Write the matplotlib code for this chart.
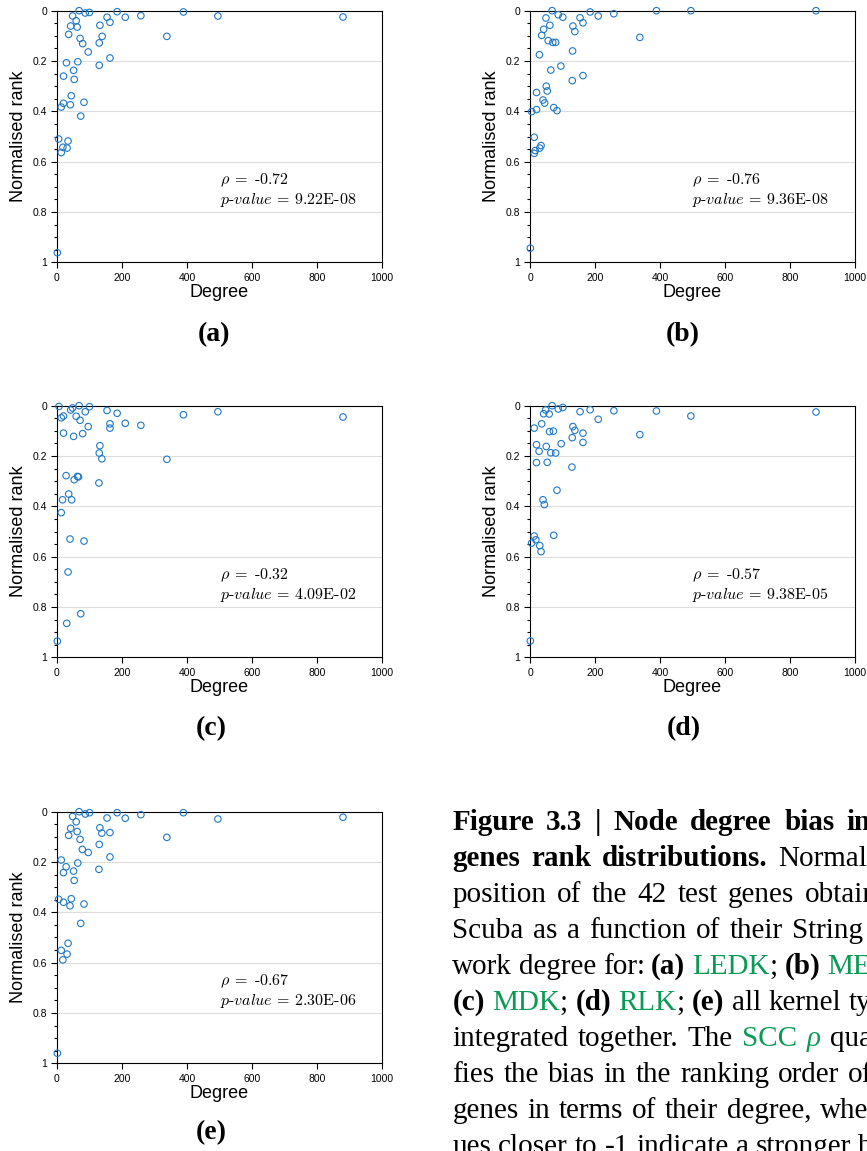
import matplotlib
matplotlib.use('Agg')
import matplotlib.pyplot as plt
from matplotlib.ticker import MultipleLocator

# degree / normalised rank of the 42 test genes for each kernel
ledk_degree = [68, 87, 100, 185, 48, 59, 154, 210, 258, 389, 163, 132, 42, 62, 36, 139, 338, 71, 79, 130,
               96, 163, 130, 29, 64, 51, 20, 53, 44, 20, 83, 13, 41, 73, 5, 34, 18, 31, 13, 1, 495, 880]
ledk_rank = [0.0, 0.009, 0.007, 0.004, 0.021, 0.04, 0.026, 0.026, 0.02, 0.005, 0.046, 0.058, 0.061, 0.065,
             0.094, 0.102, 0.102, 0.11, 0.131, 0.128, 0.164, 0.188, 0.217, 0.207, 0.203, 0.237, 0.26, 0.273,
             0.338, 0.368, 0.364, 0.383, 0.374, 0.419, 0.51, 0.518, 0.543, 0.546, 0.564, 0.962, 0.021, 0.025]

medk_degree = [68, 87, 101, 185, 210, 258, 389, 49, 154, 163, 61, 132, 42, 138, 36, 338, 56, 70, 79, 131,
               29, 95, 64, 163, 130, 50, 53, 20, 40, 45, 73, 83, 20, 5, 13, 34, 30, 16, 13, 1, 495, 880]
medk_rank = [0.0, 0.016, 0.026, 0.005, 0.021, 0.012, 0.0, 0.029, 0.028, 0.048, 0.058, 0.061, 0.074, 0.083,
             0.098, 0.106, 0.119, 0.126, 0.126, 0.16, 0.175, 0.22, 0.236, 0.258, 0.278, 0.3, 0.319, 0.325,
             0.355, 0.367, 0.385, 0.397, 0.393, 0.401, 0.503, 0.536, 0.546, 0.556, 0.567, 0.944, 0.0, 0.0]

mdk_degree = [6, 68, 100, 48, 42, 87, 154, 185, 389, 13, 20, 59, 71, 163, 163, 210, 258, 96, 20, 51,
              79, 132, 130, 138, 338, 28, 63, 66, 53, 129, 36, 17, 45, 13, 40, 83, 34, 73, 30, 1, 495, 880]
mdk_rank = [0.003, 0.0, 0.004, 0.009, 0.017, 0.024, 0.019, 0.03, 0.036, 0.048, 0.041, 0.042, 0.058, 0.072,
            0.089, 0.07, 0.078, 0.083, 0.109, 0.122, 0.111, 0.159, 0.188, 0.211, 0.213, 0.278, 0.281, 0.283,
            0.294, 0.307, 0.351, 0.374, 0.374, 0.425, 0.53, 0.538, 0.661, 0.827, 0.865, 0.936, 0.024, 0.045]

rlk_degree = [68, 87, 101, 185, 258, 389, 48, 42, 59, 154, 210, 36, 13, 132, 138, 60, 72, 163, 338, 130,
              163, 20, 50, 96, 28, 64, 79, 20, 53, 129, 83, 40, 44, 13, 18, 73, 5, 30, 34, 1, 495, 880]
rlk_rank = [0.0, 0.013, 0.007, 0.016, 0.02, 0.021, 0.017, 0.032, 0.033, 0.024, 0.054, 0.072, 0.089, 0.083,
            0.098, 0.103, 0.101, 0.109, 0.115, 0.127, 0.146, 0.155, 0.162, 0.151, 0.181, 0.187, 0.188, 0.226,
            0.225, 0.244, 0.336, 0.374, 0.393, 0.518, 0.533, 0.515, 0.546, 0.556, 0.58, 0.935, 0.041, 0.025]

all_degree = [68, 87, 100, 185, 258, 389, 210, 48, 59, 154, 132, 42, 62, 163, 138, 36, 338, 71, 130, 78,
              96, 163, 13, 64, 28, 129, 51, 20, 53, 5, 44, 20, 40, 83, 73, 34, 13, 31, 18, 1, 495, 880]
all_rank = [0.0, 0.009, 0.004, 0.004, 0.012, 0.004, 0.026, 0.019, 0.04, 0.025, 0.064, 0.066, 0.079, 0.083,
            0.085, 0.094, 0.102, 0.11, 0.13, 0.15, 0.162, 0.18, 0.192, 0.204, 0.219, 0.229, 0.236, 0.242,
            0.273, 0.348, 0.346, 0.36, 0.374, 0.367, 0.444, 0.523, 0.551, 0.566, 0.589, 0.96, 0.029, 0.022]

panel_labels = ['(a)', '(b)', '(c)', '(d)', '(e)']
rho_values = ['-0.72', '-0.76', '-0.32', '-0.57', '-0.67']
p_values = ['9.22E-08', '9.36E-08', '4.09E-02', '9.38E-05', '2.30E-06']

W, H = 867, 1151
BLUE = '#1f78c8'
GREEN = '#0a9a55'

plt.rcParams['font.family'] = 'Liberation Sans'
plt.rcParams['mathtext.fontset'] = 'cm'

fig = plt.figure(figsize=(W / 100, H / 100), dpi=100)

# axes boxes in pixels: left, top
boxes = [(57, 10.7), (530, 10.7), (57, 405.7), (530, 405.7), (57, 811.7)]
ax_w, ax_h = 325, 251.6
label_pos = [(214, 335), (683, 335), (211, 729), (684, 729), (211, 1133)]

series = [(ledk_degree, ledk_rank), (medk_degree, medk_rank), (mdk_degree, mdk_rank),
          (rlk_degree, rlk_rank), (all_degree, all_rank)]

for i, (deg, rank) in enumerate(series):
    left, top = boxes[i]
    ax = fig.add_axes([left / W, 1 - (top + ax_h) / H, ax_w / W, ax_h / H])
    ax.scatter(deg, rank, s=22, facecolors='none', edgecolors=BLUE, linewidths=0.8,
               clip_on=False, zorder=3)
    ax.set_xlim(0, 1000)
    ax.set_ylim(1, 0)
    ax.set_xticks(range(0, 1001, 200))
    ax.set_yticks([0, 0.2, 0.4, 0.6, 0.8, 1])
    ax.set_yticklabels(['0', '0.2', '0.4', '0.6', '0.8', '1'])
    ax.yaxis.set_minor_locator(MultipleLocator(0.05))
    ax.tick_params(axis='x', which='major', direction='out', length=4, width=0.8,
                   labelsize=7.5, pad=3.5)
    ax.tick_params(axis='y', which='major', direction='out', length=4.5, width=0.8,
                   labelsize=7.5, pad=2.5)
    ax.tick_params(axis='y', which='minor', direction='out', length=2.5, width=0.8)
    ax.grid(axis='y', color='#dddddd', linewidth=0.8)
    ax.set_axisbelow(True)
    for sp in ax.spines.values():
        sp.set_linewidth(0.8)
    ax.set_xlabel('Degree', fontsize=13, labelpad=1)
    ax.set_ylabel('Normalised rank', fontsize=13, labelpad=4.5)
    ax.text(500, 0.673, r'$\rho\;=\;$' + rho_values[i], family='cmr10', fontsize=11.5, va='center')
    ax.text(500, 0.753, r'$p$-$value$ = ' + p_values[i], family='cmr10', fontsize=11.5, va='center')

    lx, ly = label_pos[i]
    fig.text(lx / W, 1 - ly / H, panel_labels[i], ha='center', va='center',
             family='Liberation Serif', weight='bold', fontsize=20)

# caption lines as words: (text, style, gap before); each line is justified so that
# the word at index `anchor` starts at x = anchor_x
caption = [
    ([('Figure', 'b'), ('3.3', 'b'), ('|', 'b'), ('Node', 'b'), ('degree', 'b'), ('bias', 'b'),
      ('in', 'b'), ('the', 'b'), ('test', 'b')], 6, 846.7),
    ([('genes', 'b'), ('rank', 'b'), ('distributions.', 'b'), ('Normalised', 'n'), ('rank', 'n')],
     3, 778.3),
    ([('position', 'n'), ('of', 'n'), ('the', 'n'), ('42', 'n'), ('test', 'n'), ('genes', 'n'),
      ('obtained', 'n'), ('with', 'n')], 6, 805),
    ([('Scuba', 'n'), ('as', 'n'), ('a', 'n'), ('function', 'n'), ('of', 'n'), ('their', 'n'),
      ('String', 'n'), ('net-', 'n')], 6, 791.7),
    ([('work', 'n'), ('degree', 'n'), ('for:', 'n'), ('(a)', 'b'), ('LEDK', 'g'), (';', 'n', 0),
      ('(b)', 'b'), ('MEDK', 'g'), (';', 'n', 0)], 7, 826.7),
    ([('(c)', 'b'), ('MDK', 'g'), (';', 'n', 0), ('(d)', 'b'), ('RLK', 'g'), (';', 'n', 0),
      ('(e)', 'b'), ('all', 'n'), ('kernel', 'n'), ('types', 'n')], 9, 848.3),
    ([('integrated', 'n'), ('together.', 'n'), ('The', 'n'), ('SCC', 'g'), ('ρ', 'gi'),
      ('quanti-', 'n')], 5, 830),
    ([('fies', 'n'), ('the', 'n'), ('bias', 'n'), ('in', 'n'), ('the', 'n'), ('ranking', 'n'),
      ('order', 'n'), ('of', 'n'), ('the', 'n')], 7, 848.3),
    ([('genes', 'n'), ('in', 'n'), ('terms', 'n'), ('of', 'n'), ('their', 'n'), ('degree,', 'n'),
      ('where', 'n'), ('val-', 'n')], 6, 820),
    ([('ues', 'n'), ('closer', 'n'), ('to', 'n'), ('-1', 'n'), ('indicate', 'n'), ('a', 'n'),
      ('stronger', 'n'), ('bias', 'n')], 7, 858),
]
styles = {
    'n': dict(color='black'),
    'b': dict(color='black', weight='bold'),
    'g': dict(color=GREEN),
    'gi': dict(color=GREEN, style='italic'),
}
cap_kw = dict(family='Liberation Serif', fontsize=21)
renderer = fig.canvas.get_renderer()
x0 = 452.3

for n, (words, anchor, anchor_x) in enumerate(caption):
    y = 830 + 36 * n
    texts = []
    for w in words:
        t = fig.text(0, 1 - y / H, w[0], va='baseline', **cap_kw, **styles[w[1]])
        texts.append((t, t.get_window_extent(renderer).width, w[2] if len(w) > 2 else 1))
    gaps_before = sum(g for _, _, g in texts[1:anchor + 1])
    used = sum(wd for _, wd, _ in texts[:anchor])
    space = (anchor_x - x0 - used) / gaps_before
    x = x0
    for k, (t, wd, g) in enumerate(texts):
        if k > 0:
            x += g * space
        t.set_x(x / W)
        x += wd

fig.savefig('out.png', dpi=100)
